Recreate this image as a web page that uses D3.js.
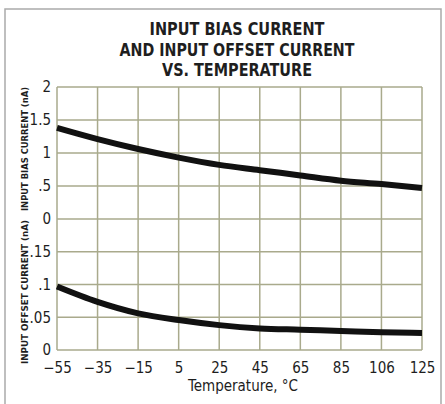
<!DOCTYPE html>
<html>
<head>
<meta charset="utf-8">
<script src="https://cdn.jsdelivr.net/npm/d3@7"></script>
<style>
  html, body { margin: 0; padding: 0; background: #fff; }
  svg text { font-family: "DejaVu Sans Condensed", "Liberation Sans Narrow", sans-serif; fill: #1e1e1e; }
</style>
</head>
<body>
<div id="chart"></div>
<script>
// --- data ---
const temps = [-55, -35, -15, 5, 25, 45, 65, 85, 106, 125];
const biasCurrent = [1.38, 1.21, 1.06, 0.93, 0.82, 0.74, 0.66, 0.58, 0.53, 0.47];   // nA
const offsetCurrent = [0.097, 0.0735, 0.056, 0.0457, 0.038, 0.033, 0.031, 0.029, 0.027, 0.026]; // nA
const xTickLabels = ["\u221255", "\u221235", "\u221215", "5", "25", "45", "65", "85", "106", "125"];
const biasTicks = [0, 0.5, 1, 1.5, 2];
const offsetTicks = [0, 0.05, 0.1, 0.15];
const titleLines = ["INPUT BIAS CURRENT", "AND INPUT OFFSET CURRENT", "VS. TEMPERATURE"];
const titleWidths = [175, 235, 150];

const W = 445, H = 404;
const plotL = 57, plotR = 422, plotT = 87, plotM = 219, plotB = 350;

const svg = d3.select('#chart').append('svg')
    .attr('width', W).attr('height', H);

// outer frame
svg.append('rect')
    .attr('x', 5).attr('y', 9).attr('width', 436).attr('height', 410)
    .attr('fill', 'none').attr('stroke', '#aaa').attr('stroke-width', 1.5);

// x scale uses category index (ticks are evenly spaced, 106 label included)
const x = d3.scalePoint().domain(d3.range(temps.length)).range([plotL, plotR]);
const yBias = d3.scaleLinear().domain([0, 2]).range([plotM, plotT]);
const yOff = d3.scaleLinear().domain([0, 0.2]).range([plotB, plotM]);

// temperature -> index (linear between ticks)
const tIdx = d3.scaleLinear().domain(temps).range(d3.range(temps.length));
const xt = t => x(0) + tIdx(t) * x.step();

// --- grid ---
const grid = svg.append('g').attr('stroke', '#a9aa8c').attr('stroke-width', 1.5);
grid.selectAll('line.v').data(d3.range(temps.length)).enter().append('line')
    .attr('x1', d => x(d)).attr('x2', d => x(d))
    .attr('y1', plotT).attr('y2', plotB);
grid.selectAll('line.hb').data(biasTicks).enter().append('line')
    .attr('x1', plotL).attr('x2', plotR)
    .attr('y1', d => yBias(d)).attr('y2', d => yBias(d));
grid.selectAll('line.ho').data(offsetTicks).enter().append('line')
    .attr('x1', plotL).attr('x2', plotR)
    .attr('y1', d => yOff(d)).attr('y2', d => yOff(d));

// --- axes (labels only) ---
const fmt = d => d === 0 ? '0' : String(d).replace(/^0\./, '.');
const axB = svg.append('g').attr('transform', `translate(${plotL - 3},0)`)
    .call(d3.axisLeft(yBias).tickValues(biasTicks).tickSize(0).tickFormat(fmt));
const axO = svg.append('g').attr('transform', `translate(${plotL - 3},0)`)
    .call(d3.axisLeft(yOff).tickValues(offsetTicks).tickSize(0).tickFormat(fmt));
const axX = svg.append('g').attr('transform', `translate(0,${plotB + 9})`)
    .call(d3.axisBottom(x).tickSize(0).tickFormat(i => xTickLabels[i]));
[axB, axO, axX].forEach(a => {
    a.select('.domain').remove();
    a.selectAll('text').attr('font-size', 15).attr('fill', '#1e1e1e')
        .attr('font-family', '"DejaVu Sans Condensed", sans-serif');
});

// --- curves ---
const line = d3.line().curve(d3.curveMonotoneX);
svg.append('path')
    .attr('d', line(temps.map((t, i) => [xt(t), yBias(biasCurrent[i])])))
    .attr('fill', 'none').attr('stroke', '#111').attr('stroke-width', 6);
svg.append('path')
    .attr('d', line(temps.map((t, i) => [xt(t), yOff(offsetCurrent[i])])))
    .attr('fill', 'none').attr('stroke', '#111').attr('stroke-width', 6);

// --- titles ---
svg.append('g').selectAll('text').data(titleLines).enter().append('text')
    .attr('x', 237).attr('y', (d, i) => 35 + i * 20.5)
    .attr('text-anchor', 'middle').attr('font-size', 18).attr('font-weight', 'bold')
    .attr('textLength', (d, i) => titleWidths[i]).attr('lengthAdjust', 'spacingAndGlyphs')
    .text(d => d);

svg.append('text')
    .attr('x', 243).attr('y', 391)
    .attr('text-anchor', 'middle').attr('font-size', 15)
    .text('Temperature, \u00B0C');

svg.append('text')
    .attr('transform', `translate(28,149) rotate(-90)`)
    .attr('text-anchor', 'middle').attr('font-size', 9).attr('font-weight', 'bold')
    .attr('textLength', 124).attr('lengthAdjust', 'spacingAndGlyphs')
    .text('INPUT BIAS CURRENT (nA)');
svg.append('text')
    .attr('transform', `translate(28,292) rotate(-90)`)
    .attr('text-anchor', 'middle').attr('font-size', 9).attr('font-weight', 'bold')
    .attr('textLength', 144).attr('lengthAdjust', 'spacingAndGlyphs')
    .text('INPUT OFFSET CURRENT (nA)');
</script>
</body>
</html>
